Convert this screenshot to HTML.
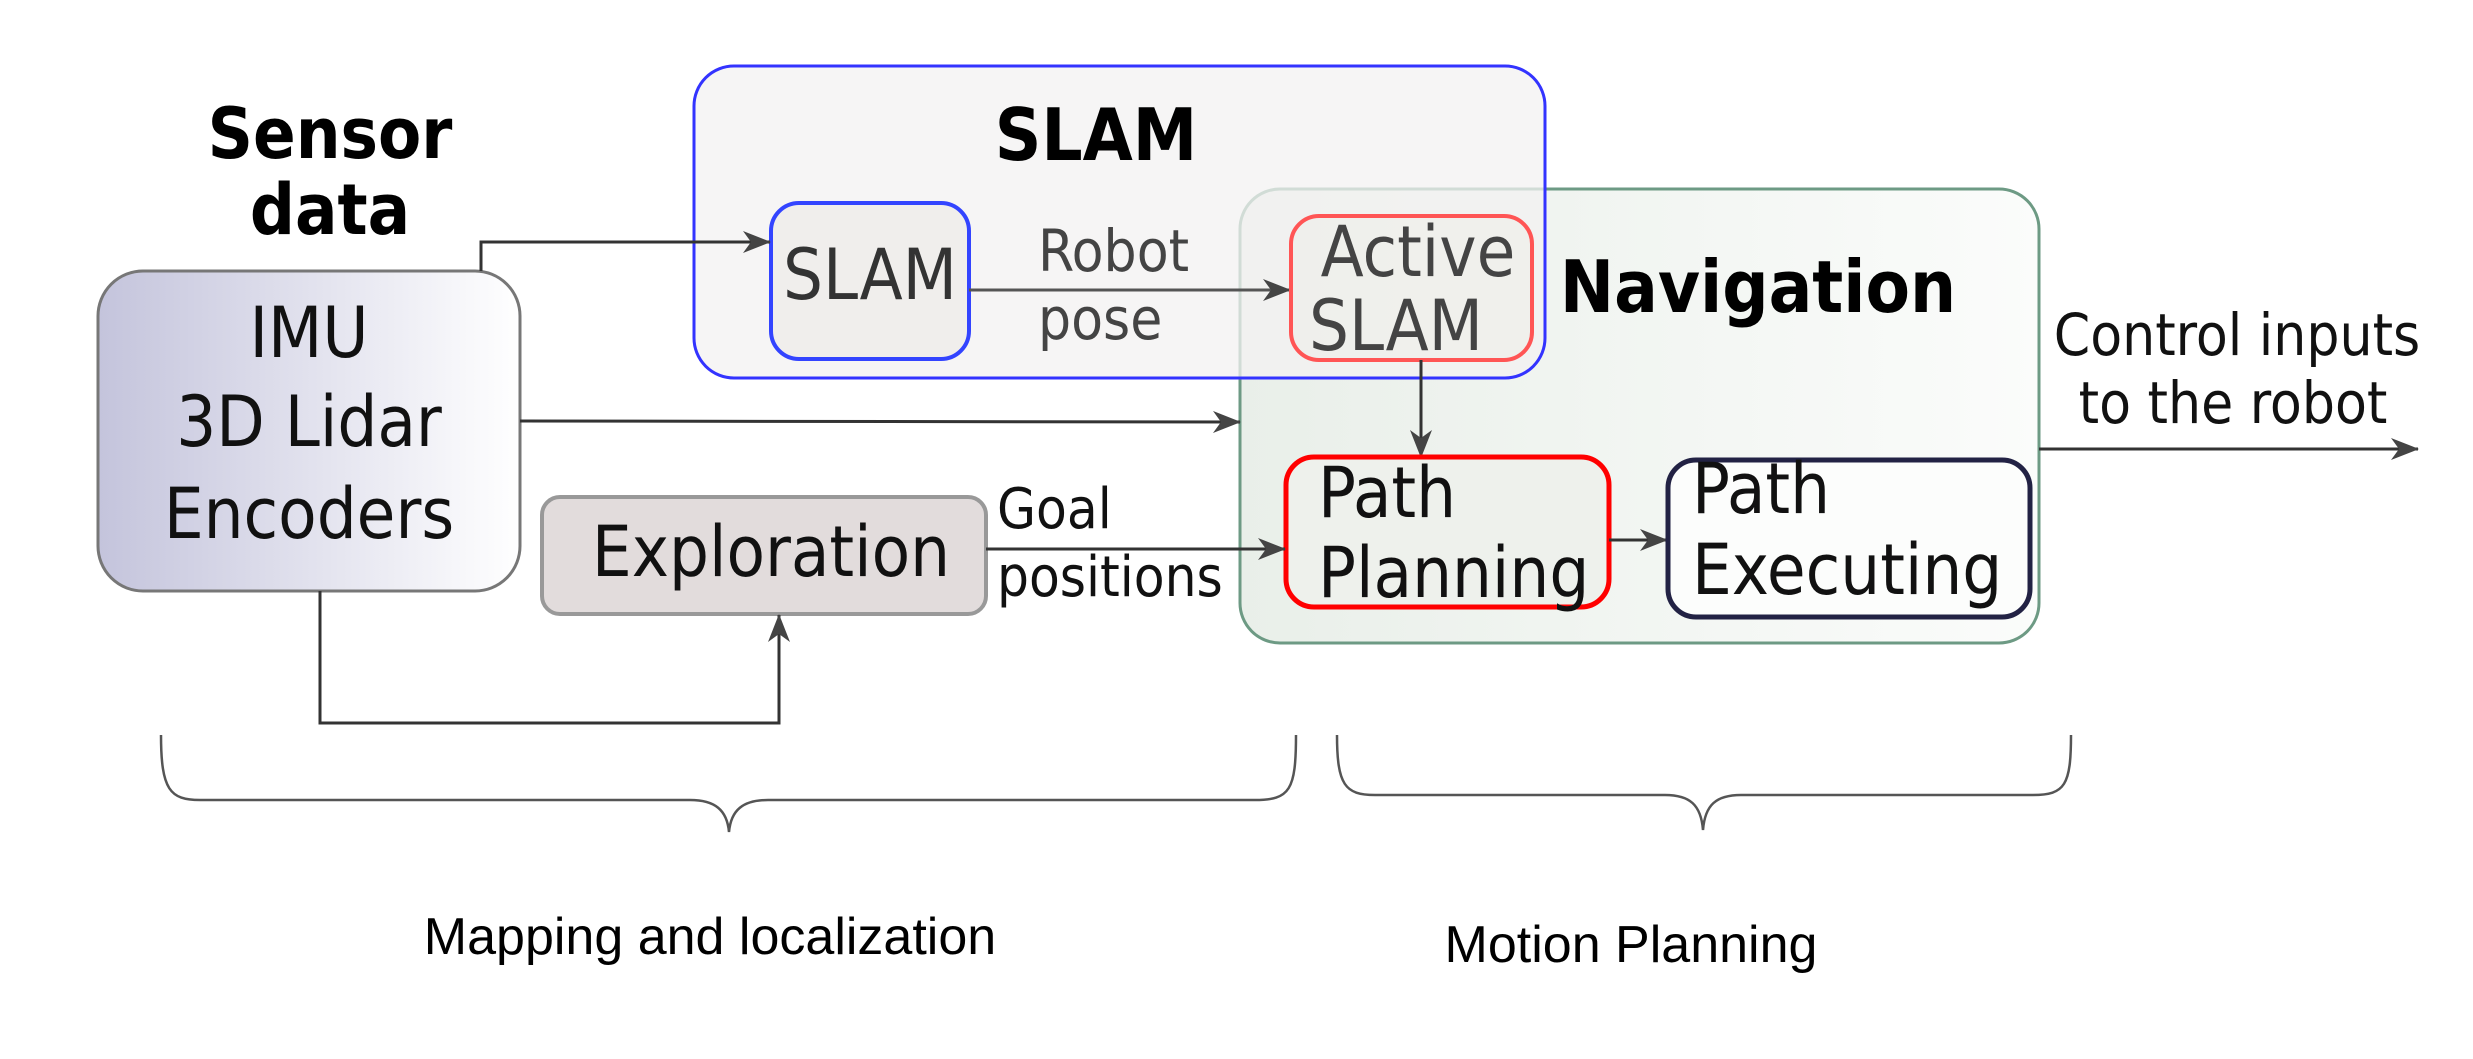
<!DOCTYPE html>
<html><head><meta charset="utf-8"><style>
html,body{margin:0;padding:0;background:#fff;}
svg{display:block;}
.c{font-family:"DejaVu Sans Condensed","DejaVu Sans","Liberation Sans",sans-serif;}
</style></head><body>
<svg width="2473" height="1059" viewBox="0 0 2473 1059" xmlns="http://www.w3.org/2000/svg">
<defs>
<linearGradient id="g1" x1="0" x2="1" y1="0" y2="0"><stop offset="0" stop-color="#c4c4dc"/><stop offset="1" stop-color="#ffffff"/></linearGradient>
<linearGradient id="g2" x1="0" x2="1" y1="0" y2="0"><stop offset="0" stop-color="#e9efe9"/><stop offset="1" stop-color="#fbfcfb"/></linearGradient>
<marker id="a" viewBox="0 0 28 22" refX="27" refY="11" markerWidth="28" markerHeight="22" markerUnits="userSpaceOnUse" orient="auto">
<path d="M0,0 L28,11 L0,22 L8,11 Z" fill="#444"/></marker>
</defs>
<rect x="1240" y="189" width="799" height="454" rx="40" fill="url(#g2)" stroke="#6d9a84" stroke-width="3"/>
<rect x="694" y="66" width="851" height="312" rx="40" fill="#f3f1f2" fill-opacity="0.75" stroke="#3333ff" stroke-width="3"/>
<text x="1096" y="160" text-anchor="middle" class="c" font-weight="bold" font-size="72" fill="#000">SLAM</text>
<text x="330" y="158" text-anchor="middle" class="c" font-weight="bold" font-size="70" fill="#000">Sensor</text>
<text x="330" y="234" text-anchor="middle" class="c" font-weight="bold" font-size="70" fill="#000">data</text>
<rect x="98" y="271" width="422" height="320" rx="45" fill="url(#g1)" stroke="#777" stroke-width="3"/>
<text x="309" y="357" text-anchor="middle" class="c" font-size="70" fill="#111">IMU</text>
<text x="309" y="446" text-anchor="middle" class="c" font-size="70" fill="#111">3D Lidar</text>
<text x="309" y="538" text-anchor="middle" class="c" font-size="70" fill="#111">Encoders</text>
<rect x="771" y="203" width="198" height="156" rx="28" fill="#f0eeec" stroke="#3344ff" stroke-width="4"/>
<text x="870" y="299" text-anchor="middle" class="c" font-size="70" fill="#333">SLAM</text>
<text x="1038" y="271" class="c" font-size="58" fill="#444">Robot</text>
<text x="1038" y="339" class="c" font-size="58" fill="#444">pose</text>
<line x1="969" y1="290" x2="1290" y2="290" stroke="#555" stroke-width="3" marker-end="url(#a)"/>
<rect x="1291" y="216" width="241" height="144" rx="28" fill="#eeeeea" fill-opacity="0.6" stroke="#ff5555" stroke-width="4"/>
<text x="1418" y="276" text-anchor="middle" class="c" font-size="70" fill="#444">Active</text>
<text x="1396" y="350" text-anchor="middle" class="c" font-size="70" fill="#444">SLAM</text>
<text x="1758" y="312" text-anchor="middle" class="c" font-weight="bold" font-size="72" fill="#000">Navigation</text>
<line x1="1421" y1="360" x2="1421" y2="457" stroke="#333" stroke-width="3" marker-end="url(#a)"/>
<rect x="1286" y="457" width="323" height="150" rx="28" fill="#eef1ec" stroke="#ff0000" stroke-width="5"/>
<text x="1318" y="517" class="c" font-size="70" fill="#111">Path</text>
<text x="1318" y="597" class="c" font-size="70" fill="#111">Planning</text>
<line x1="1609" y1="540" x2="1667" y2="540" stroke="#333" stroke-width="3" marker-end="url(#a)"/>
<rect x="1668" y="460" width="362" height="157" rx="28" fill="#fcfdfc" stroke="#222244" stroke-width="5"/>
<text x="1692" y="513" class="c" font-size="70" fill="#111">Path</text>
<text x="1692" y="594" class="c" font-size="70" fill="#111">Executing</text>
<text x="2237" y="355" text-anchor="middle" class="c" font-size="58" fill="#111">Control inputs</text>
<text x="2233" y="423" text-anchor="middle" class="c" font-size="58" fill="#111">to the robot</text>
<line x1="2039" y1="449" x2="2418" y2="449" stroke="#333" stroke-width="3" marker-end="url(#a)"/>
<polyline points="481,271 481,242 770,242" fill="none" stroke="#333" stroke-width="3" marker-end="url(#a)"/>
<line x1="520" y1="421" x2="1240" y2="422" stroke="#333" stroke-width="3" marker-end="url(#a)"/>
<rect x="542" y="497" width="444" height="117" rx="18" fill="#e2dcdc" stroke="#999" stroke-width="4"/>
<text x="771" y="576" text-anchor="middle" class="c" font-size="70" fill="#111">Exploration</text>
<text x="997" y="528" class="c" font-size="56" fill="#111">Goal</text>
<text x="997" y="596" class="c" font-size="56" fill="#111">positions</text>
<line x1="986" y1="549" x2="1285" y2="549" stroke="#333" stroke-width="3" marker-end="url(#a)"/>
<polyline points="320,591 320,723 779,723 779,615" fill="none" stroke="#333" stroke-width="3" marker-end="url(#a)"/>
<path d="M161,735 C161,790 170,800 200,800 L690,800 C715,800 727,810 729,832 C731,810 743,800 768,800 L1255,800 C1290,800 1296,790 1296,735" fill="none" stroke="#555" stroke-width="2.5"/>
<path d="M1337,735 C1337,785 1345,795 1375,795 L1665,795 C1690,795 1701,805 1703,830 C1705,805 1716,795 1741,795 L2033,795 C2065,795 2071,785 2071,735" fill="none" stroke="#555" stroke-width="2.5"/>
<text x="710" y="954" text-anchor="middle" font-family="Liberation Sans, sans-serif" font-size="52" fill="#000">Mapping and localization</text>
<text x="1631" y="962" text-anchor="middle" font-family="Liberation Sans, sans-serif" font-size="52" fill="#000">Motion Planning</text>
</svg>
</body></html>
